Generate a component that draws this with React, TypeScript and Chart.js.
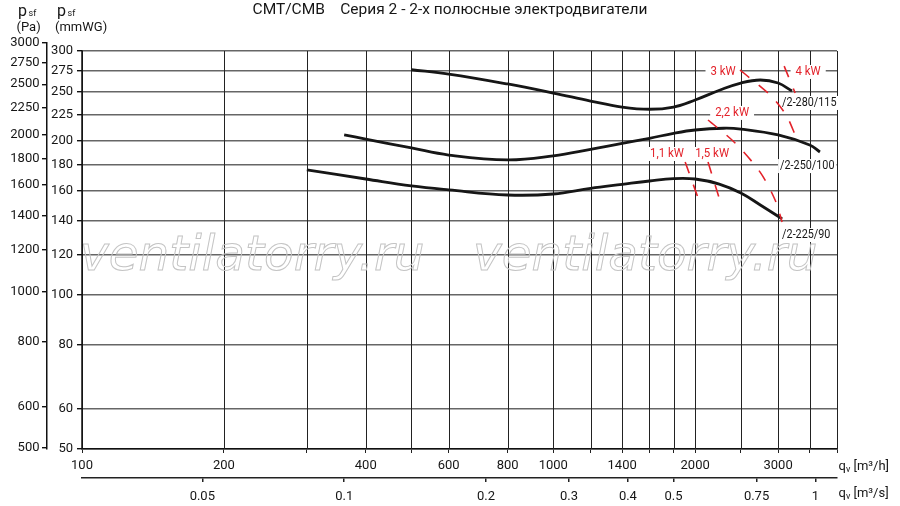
import React, { useEffect, useRef } from 'react';
import { Chart, registerables } from 'chart.js';

Chart.register(...registerables);

const TITLE = 'CMT/CMB    Серия 2 - 2-х полюсные электродвигатели';
const WATERMARK = 'ventilatorry.ru';

// axes
const flowGridM3h = [100, 200, 300, 400, 500, 600, 800, 1000, 1200, 1400, 1600, 1800, 2000, 2500, 3000, 3500, 4000];
const flowLabelsM3h = [100, 200, 400, 600, 800, 1000, 1400, 2000, 3000];
const flowTicksM3s = [0.05, 0.1, 0.2, 0.3, 0.4, 0.5, 0.75, 1];
const pressureTicksMmWG = [50, 60, 80, 100, 120, 140, 160, 180, 200, 225, 250, 275, 300];
const pressureTicksPa = [500, 600, 800, 1000, 1200, 1400, 1600, 1800, 2000, 2250, 2500, 2750, 3000];

// fan curves (q in m3/h, p in mmWG)
const fan280Q = [500, 600, 800, 1000, 1200, 1400, 1600, 1800, 2000, 2260, 2500, 2750, 3000, 3210];
const fan280P = [275.7, 270.4, 258.6, 248.3, 239.5, 233.1, 230.8, 233.1, 240.6, 251.7, 259.7, 263.3, 259.7, 250.6];

const fan250Q = [360, 400, 500, 600, 800, 1000, 1200, 1400, 1600, 1800, 2000, 2300, 2500, 3000, 3500, 3680];
const fan250P = [205.6, 201.8, 193.9, 187.8, 183.7, 187.1, 192.7, 198, 202.5, 207.1, 210.2, 211.9, 211.1, 205.6, 196.5, 190.4];

const fan225Q = [300, 400, 500, 600, 800, 1000, 1200, 1400, 1600, 1800, 2000, 2250, 2500, 2750, 3060];
const fan225P = [175.6, 168.6, 163.4, 160.5, 156.9, 157.6, 161.7, 164.6, 167.1, 168.9, 168.6, 164.8, 158.3, 150, 140.9];

// motor power lines
const kw11Q = [1905, 2029];
const kw11P = [182, 154.8];
const kw15Q = [2130, 2249];
const kw15P = [182, 154.8];
const kw22Q = [2130, 2431, 2747, 2956, 3059];
const kw22P = [219.9, 198.3, 173.9, 153.4, 138.9];
const kw3Q = [2490, 2885, 3119, 3275];
const kw3P = [275.4, 246, 224.9, 203.7];
const kw4Q = [3090, 3260];
const kw4P = [280.3, 248.3];

// labels
const kwText = ['1,1 kW', '1,5 kW', '2,2 kW', '3 kW', '4 kW'];
const kwLabelQ = [1743, 2173, 2396, 2293, 3474];
const kwLabelP = [188.7, 188.7, 227, 273, 273];

const fanNames = ['/2-280/115', '/2-250/100', '/2-225/90'];
const fanLabelQ = [3059, 3029, 3059];
const fanLabelP = [237.4, 178.7, 131];

const watermarkQ = [100, 682];
const watermarkP = 112;

const RED = '#e3222a';
const INK = '#161616';

const toPts = (q: number[], p: number[]) => q.map((v, i) => ({ x: v, y: p[i] }));

function boxedText(ctx: CanvasRenderingContext2D, text: string, px: number, py: number, align: 'center' | 'left', font: string, color: string, sx: number, padX: number) {
  ctx.save();
  ctx.font = font;
  const w = ctx.measureText(text).width * sx;
  const h = 14;
  const left = align === 'center' ? px - w / 2 : px;
  ctx.fillStyle = '#ffffff';
  ctx.fillRect(left - padX, py - h / 2, w + 2 * padX, h);
  ctx.translate(left, py);
  ctx.scale(sx, 1);
  ctx.fillStyle = color;
  ctx.textBaseline = 'middle';
  ctx.textAlign = 'left';
  ctx.fillText(text, 0, 0);
  ctx.restore();
}

const overlayPlugin = {
  id: 'overlay',
  beforeDatasetsDraw(chart: any) {
    const { ctx, chartArea, scales } = chart;
    const xs = scales.x;
    const ys = scales.y;
    const top = ys.getPixelForValue(300);
    const bottom = chartArea.bottom;
    ctx.save();
    // vertical grid lines
    ctx.strokeStyle = '#222';
    ctx.lineWidth = 1;
    for (const v of flowGridM3h) {
      const px = Math.round(xs.getPixelForValue(v)) + 0.5;
      ctx.beginPath();
      ctx.moveTo(px, top);
      ctx.lineTo(px, bottom);
      ctx.stroke();
    }
    // inner axis line
    ctx.strokeStyle = '#111';
    ctx.lineWidth = 1.5;
    ctx.beginPath();
    ctx.moveTo(chartArea.left, top - 0.75);
    ctx.lineTo(chartArea.left, bottom);
    ctx.stroke();
    // watermark
    ctx.font = 'italic 48.5px "DejaVu Sans"';
    ctx.strokeStyle = '#c4c4c4';
    ctx.lineWidth = 1;
    ctx.textAlign = 'left';
    ctx.textBaseline = 'alphabetic';
    for (const q of watermarkQ) {
      ctx.strokeText(WATERMARK, xs.getPixelForValue(q) - 2, ys.getPixelForValue(watermarkP));
    }
    ctx.restore();
    // power labels
    kwText.forEach((t, i) => {
      boxedText(ctx, t, xs.getPixelForValue(kwLabelQ[i]), ys.getPixelForValue(kwLabelP[i]), 'center', '13px Roboto', RED, 0.88, 5);
    });
    fanNames.forEach((t, i) => {
      boxedText(ctx, t, xs.getPixelForValue(fanLabelQ[i]), ys.getPixelForValue(fanLabelP[i]), 'left', '13.5px Roboto', INK, 0.8, 2);
    });
  },
  afterDraw(chart: any) {
    const { ctx, chartArea, scales } = chart;
    ctx.save();
    ctx.fillStyle = INK;
    ctx.textAlign = 'left';
    ctx.textBaseline = 'alphabetic';
    const pa = scales.yPa;
    const mm = scales.y;
    // axis titles
    ctx.font = '16px Roboto';
    ctx.fillText('p', pa.left + 18, 15.5);
    ctx.fillText('p', mm.left + 10, 15.5);
    ctx.font = '9px Roboto';
    ctx.fillText('sf', pa.left + 28.5, 16);
    ctx.fillText('sf', mm.left + 20.5, 16);
    ctx.font = '13px Roboto';
    ctx.fillText('(Pa)', pa.left + 16.5, 31);
    ctx.fillText('(mmWG)', mm.left + 8, 31);
    // flow units
    const drawQ = (x: number, y: number, unit: string) => {
      ctx.font = '13px Roboto';
      ctx.fillText('q', x, y);
      let w = ctx.measureText('q').width;
      ctx.font = '9px Roboto';
      ctx.fillText('v', x + w, y + 1.5);
      w += ctx.measureText('v').width;
      ctx.font = '13px Roboto';
      ctx.fillText(' [' + unit + ']', x + w, y);
    };
    drawQ(chartArea.right + 1.5, scales.x.top + 21, 'm³/h');
    drawQ(chartArea.right + 1.5, scales.x2.top + 19, 'm³/s');
    ctx.restore();
  },
};

const fixedTicks = (values: number[]) => (scale: any) => {
  scale.ticks = values.map((v) => ({ value: v }));
};

export default function App() {
  const canvasRef = useRef<HTMLCanvasElement | null>(null);

  useEffect(() => {
    const canvas = canvasRef.current;
    if (!canvas) return;
    const curve = (q: number[], p: number[]) => ({
      data: toPts(q, p),
      borderColor: INK,
      borderWidth: 2.8,
      pointRadius: 0,
      fill: false,
      tension: 0.4,
      xAxisID: 'x',
      yAxisID: 'y',
    });
    const power = (q: number[], p: number[]) => ({
      data: toPts(q, p),
      borderColor: RED,
      borderWidth: 1.6,
      borderDash: [12, 12],
      pointRadius: 0,
      fill: false,
      tension: 0.3,
      xAxisID: 'x',
      yAxisID: 'y',
    });
    const tickFont = { family: 'Roboto', size: 13 };
    const chart = new Chart(canvas, {
      type: 'line',
      data: {
        datasets: [
          power(kw11Q, kw11P),
          power(kw15Q, kw15P),
          power(kw22Q, kw22P),
          power(kw3Q, kw3P),
          power(kw4Q, kw4P),
          curve(fan280Q, fan280P),
          curve(fan250Q, fan250P),
          curve(fan225Q, fan225P),
        ],
      },
      options: {
        responsive: false,
        animation: false,
        events: [],
        layout: { padding: { top: 0, right: 0, bottom: 0, left: 0 } },
        plugins: {
          legend: { display: false },
          tooltip: { enabled: false },
          title: {
            display: true,
            text: TITLE,
            color: INK,
            font: { family: 'Roboto', size: 15.5, weight: 'normal' },
            padding: { top: 0.5, bottom: 23.9 },
          },
        },
        scales: {
          x: {
            type: 'logarithmic',
            position: 'bottom',
            weight: 0,
            min: 100,
            max: 4000,
            afterBuildTicks: fixedTicks(flowGridM3h),
            afterFit: (s: any) => { s.height = 29; },
            grid: { drawOnChartArea: false, drawTicks: true, tickLength: 4, color: '#222', tickColor: '#222', lineWidth: 1 },
            border: { display: true, color: '#111', width: 1.5 },
            ticks: {
              autoSkip: false,
              maxRotation: 0,
              padding: 5,
              color: INK,
              font: tickFont,
              callback: (v: any) => (flowLabelsM3h.includes(Number(v)) ? String(v) : ''),
            },
          },
          x2: {
            type: 'logarithmic',
            position: 'bottom',
            weight: 1,
            min: 100 / 3600,
            max: 4000 / 3600,
            afterBuildTicks: fixedTicks(flowTicksM3s),
            afterFit: (s: any) => { s.height = 28; },
            grid: { drawOnChartArea: false, drawTicks: true, tickLength: 4, color: '#222', tickColor: '#222', lineWidth: 1.5 },
            border: { display: true, color: '#222', width: 1.5 },
            ticks: {
              autoSkip: false,
              maxRotation: 0,
              padding: 7,
              color: INK,
              font: tickFont,
              callback: (v: any) => String(v),
            },
          },
          y: {
            type: 'logarithmic',
            position: 'left',
            weight: 0,
            min: 50,
            max: 311,
            afterBuildTicks: fixedTicks(pressureTicksMmWG),
            afterFit: (s: any) => { s.width = 35; },
            grid: { drawOnChartArea: true, drawTicks: true, tickLength: 5, color: '#666', tickColor: '#111', lineWidth: 1.4 },
            border: { display: false },
            ticks: {
              autoSkip: false,
              padding: 4,
              color: INK,
              font: tickFont,
              callback: (v: any) => String(v),
            },
          },
          yPa: {
            type: 'logarithmic',
            position: 'left',
            weight: 1,
            min: 497.8,
            max: 3000,
            afterBuildTicks: fixedTicks(pressureTicksPa),
            afterFit: (s: any) => { s.width = 47; },
            grid: { drawOnChartArea: false, drawTicks: true, tickLength: 5, color: '#111', tickColor: '#111', lineWidth: 1.4 },
            border: { display: true, color: '#111', width: 1.5 },
            ticks: {
              autoSkip: false,
              padding: 2.5,
              color: INK,
              font: tickFont,
              callback: (v: any) => String(v),
            },
          },
          // empty right-hand strip that holds the flow unit labels
          yRight: {
            type: 'linear',
            position: 'right',
            min: 0,
            max: 1,
            afterFit: (s: any) => { s.width = 63; },
            grid: { display: false, drawOnChartArea: false },
            border: { display: false },
            ticks: { display: false },
          },
        },
      } as any,
      plugins: [overlayPlugin],
    });
    return () => chart.destroy();
  }, []);

  return (
    <div style={{ position: 'absolute', left: 0, top: 0, width: 900, height: 506, background: '#ffffff' }}>
      <canvas ref={canvasRef} width={900} height={506} style={{ width: 900, height: 506, display: 'block' }} />
    </div>
  );
}
